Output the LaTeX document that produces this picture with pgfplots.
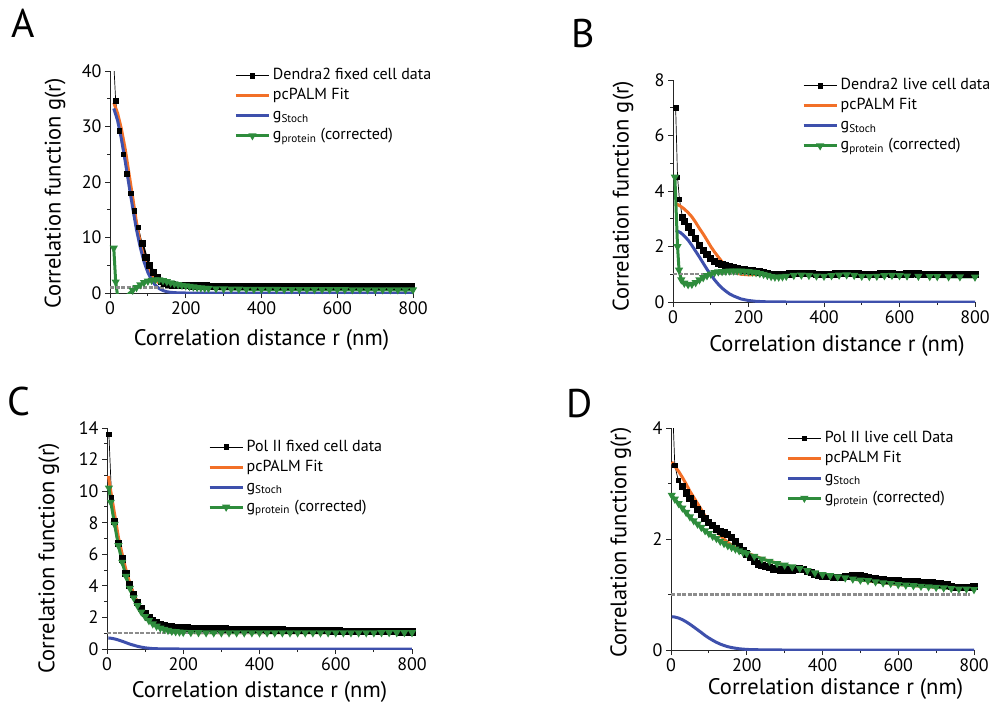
\documentclass[border=0pt]{standalone}
\usepackage{fontspec}
\setmainfont{PT Sans}
\usepackage{pgfplots}
\pgfplotsset{compat=1.18}
\definecolor{cOrange}{RGB}{242,112,40}
\definecolor{cBlue}{RGB}{62,80,172}
\definecolor{cGreen}{RGB}{46,140,60}
\definecolor{cGray}{RGB}{140,140,140}
\pgfplotsset{
  panel/.style={
    scale only axis, width=303pt, height=222pt,
    axis lines=left, axis line style={-, black!85, line width=0.9pt},
    xmin=0, xmax=800, xtick={0,200,400,600,800}, minor xtick={100,300,500,700},
    tick align=outside, major tick length=5pt, minor tick length=3pt,
    tick style={black!85, line width=0.9pt},
    /pgf/number format/assume math mode=true,
    ticklabel style={font=\fontsize{18}{18}\selectfont},
    every axis x label/.style={at={(axis description cs:0.5,0)}, anchor=base, font=\fontsize{22.5}{22.5}\selectfont},
    every axis y label/.style={rotate=90, anchor=south, font=\fontsize{22.5}{22.5}\selectfont},
    xlabel={Correlation distance r (nm)},
    ylabel={Correlation function g(r)},
    legend cell align=left,
    legend style={draw=none, fill=none, anchor=north west, font=\fontsize{16}{16}\selectfont, row sep=0pt, inner sep=0pt, nodes={inner xsep=2.5pt, inner ysep=3pt, text height=11pt, text depth=3pt}},
    legend image code/.code={\draw[mark repeat=2,mark phase=2,##1] plot coordinates {(0pt,0pt) (16.5pt,0pt) (33pt,0pt)};},
  },
  dat/.style={black, line width=0.7pt, mark=square*, mark size=2.2pt, mark options={solid}},
  datb/.style={black, line width=3pt, mark=square*, mark size=2.1pt, mark options={solid}, forget plot},
  fit/.style={cOrange, line width=3pt, no marks},
  sto/.style={cBlue, line width=3pt, no marks},
  pro/.style={cGreen, line width=3pt, mark=triangle*, mark size=1.8pt, mark options={rotate=180, solid}},
  one/.style={cGray, line width=2.4pt, dash pattern=on 4pt off 1.5pt, no marks, forget plot},
}
\begin{document}
\begin{tikzpicture}
\useasboundingbox (0pt,0pt) rectangle (995pt,-706pt);
% ---------------- A ----------------
\begin{axis}[panel, at={(110pt,-293pt)}, anchor=south west,
  ymin=0, ymax=40, ytick={0,10,20,30,40}, minor ytick={5,15,25,35},
  xlabel style={yshift=-52pt},
  ylabel style={at={(axis description cs:-0.135,0.448)}},
  legend style={at={(axis description cs:0.41,1.025)}}]
\addplot[dat] coordinates {(5,48) (15,34.6) (25,29.2) (35,25.0) (45,21.5) (55,18.0) (65,14.8) (75,11.8) (85,8.9)};
\addlegendentry{Dendra2 fixed cell data}
\addplot[datb] coordinates {(85,8.9) (95,6.4) (105,4.9) (115,3.7) (125,2.8) (135,2.1) (145,1.75) (155,1.55) (165,1.45) (175,1.38) (185,1.33) (195,1.3)
(205,1.28) (215,1.27) (225,1.26) (235,1.26) (245,1.25) (255,1.25) (265,1.24) (275,1.24) (285,1.23) (295,1.23) (305,1.23) (315,1.22) (325,1.22) (335,1.22) (345,1.21) (355,1.21) (365,1.21) (375,1.2) (385,1.2) (395,1.2) (405,1.2) (415,1.2) (425,1.19) (435,1.19) (445,1.19) (455,1.19) (465,1.18) (475,1.18) (485,1.18) (495,1.18) (505,1.17) (515,1.17) (525,1.17) (535,1.17) (545,1.16) (555,1.16) (565,1.16) (575,1.16) (585,1.15) (595,1.15) (605,1.15) (615,1.15) (625,1.15) (635,1.14) (645,1.14) (655,1.14) (665,1.14) (675,1.13) (685,1.13) (695,1.13) (705,1.13) (715,1.12) (725,1.12) (735,1.12) (745,1.12) (755,1.11) (765,1.11) (775,1.11) (785,1.1) (795,1.1)};
\addplot[fit] coordinates {(10,34.3) (20,32.4) (30,29.6) (40,26.0) (50,21.6) (60,17.2) (70,12.7) (80,9.0) (90,6.3) (100,4.4) (110,3.1) (120,2.3) (130,1.8) (140,1.5) (150,1.3) (170,1.1) (200,1.02) (300,1.0) (800,1.0)};
\addlegendentry{pcPALM Fit}
\addplot[sto] coordinates {(10,33.25) (20,31.1) (30,27.8) (40,23.8) (50,19.5) (60,15.3) (70,11.4) (80,8.2) (90,5.6) (100,3.7) (110,2.3) (120,1.39) (130,0.8) (140,0.44) (150,0.23) (160,0.115) (180,0.025) (200,0) (800,0)};
\addlegendentry{g\textsubscript{Stoch}}
\addplot[pro] coordinates {(10,8.1) (15,2.0) (20,-0.5) (30,-1.2) (40,-0.8) (50,-0.1) (60,0.5) (70,1.0) (80,1.5) (90,1.9) (100,2.15) (110,2.3) (120,2.4) (130,2.38) (140,2.25) (150,2.05) (160,1.85) (170,1.68) (180,1.52) (190,1.4) (200,1.3) (210,1.2) (220,1.1) (230,1.0) (240,0.93) (250,0.87) (260,0.83) (280,0.78) (300,0.75) (320,0.72) (340,0.7) (360,0.68) (380,0.67) (400,0.66) (420,0.65) (440,0.65) (460,0.64) (480,0.64) (500,0.63) (520,0.63) (540,0.62) (560,0.62) (580,0.62) (600,0.61) (620,0.61) (640,0.6) (660,0.6) (680,0.6) (700,0.59) (720,0.59) (740,0.59) (760,0.58) (780,0.58) (800,0.58)};
\addlegendentry{g\textsubscript{protein} (corrected)}
\addplot[one] coordinates {(0,1) (800,1)};
\end{axis}
% ---------------- B ----------------
\begin{axis}[panel, at={(673pt,-302pt)}, anchor=south west, width=302pt,
  ymin=0, ymax=8, ytick={0,2,4,6,8}, minor ytick={1,3,5,7},
  xlabel style={yshift=-49pt, xshift=13pt},
  ylabel style={at={(axis description cs:-0.119,0.477)}},
  legend style={at={(axis description cs:0.427,1.02)}}]
\addplot[dat] coordinates {(7,7.0) (12,4.5) (17,3.7) (25,3.05)};
\addlegendentry{Dendra2 live cell data}
\addplot[datb] coordinates {(25,3.05) (30,2.9) (40,2.7) (50,2.5) (60,2.28) (70,2.05) (80,1.85) (90,1.7) (100,1.57) (110,1.47) (120,1.4) (130,1.35) (140,1.3) (150,1.27) (160,1.24) (170,1.2) (180,1.17) (190,1.15) (200,1.13) (210,1.12) (220,1.1) (230,1.08) (240,1.05) (250,1.02) (260,1.0) (270,0.99) (280,0.98) (290,0.99) (300,1.0) (310,1.01) (320,1.02) (330,1.03) (340,1.04) (350,1.04) (360,1.03) (370,1.02) (380,1.0) (390,0.99) (400,0.99) (410,1.0) (420,1.0) (430,1.01) (440,1.02) (450,1.03) (460,1.04) (470,1.04) (480,1.03) (490,1.01) (500,1.0) (510,0.99) (520,0.99) (530,1.0) (540,1.0) (550,1.01) (560,1.02) (570,1.02) (580,1.01) (590,1.0) (600,1.0) (610,1.0) (620,1.01) (630,1.01) (640,1.02) (650,1.01) (660,1.0) (670,1.0) (680,0.99) (690,0.99) (700,1.0) (710,1.0) (720,1.0) (730,0.99) (740,0.99) (750,0.99) (760,0.99) (770,0.99) (780,0.99) (790,0.99) (800,0.99)};
\addplot[fit] coordinates {(8,3.55) (20,3.45) (30,3.35) (40,3.22) (50,3.07) (60,2.87) (70,2.65) (80,2.45) (90,2.23) (100,2.0) (110,1.8) (120,1.62) (130,1.45) (140,1.3) (150,1.19) (160,1.1) (170,1.04) (180,1.0) (200,0.98) (250,1.0) (800,1.02)};
\addlegendentry{pcPALM Fit}
\addplot[sto] coordinates {(8,2.58) (20,2.5) (30,2.38) (40,2.23) (50,2.04) (60,1.83) (70,1.62) (80,1.4) (90,1.18) (100,0.985) (110,0.8) (120,0.64) (130,0.5) (140,0.39) (150,0.29) (160,0.22) (180,0.11) (200,0.054) (220,0.024) (250,0.006) (300,0) (800,0)};
\addlegendentry{g\textsubscript{Stoch}}
\addplot[pro] coordinates {(5,4.5) (12,2.0) (16,1.15) (22,0.8) (30,0.68) (40,0.63) (50,0.64) (60,0.7) (70,0.8) (80,0.88) (90,0.95) (100,1.01) (110,1.06) (120,1.09) (130,1.1) (140,1.11) (150,1.12) (160,1.12) (170,1.12) (180,1.12) (190,1.11) (200,1.1) (210,1.08) (220,1.06) (230,1.03) (240,1.0) (250,0.96) (260,0.92) (270,0.9) (280,0.9) (290,0.91) (300,0.93) (320,0.96) (340,0.97) (360,0.96) (380,0.94) (400,0.93) (420,0.95) (440,0.97) (460,0.98) (480,0.96) (500,0.93) (520,0.92) (540,0.93) (560,0.95) (580,0.96) (600,0.95) (620,0.94) (650,0.93) (680,0.92) (700,0.92) (730,0.91) (760,0.91) (800,0.9)};
\addlegendentry{g\textsubscript{protein} (corrected)}
\addplot[one] coordinates {(0,1) (800,1)};
\end{axis}
% ---------------- C ----------------
\begin{axis}[panel, at={(107pt,-649pt)}, anchor=south west, width=305pt, height=221pt,
  ymin=0, ymax=14, ytick={0,2,4,6,8,10,12,14}, minor ytick={1,3,5,7,9,11,13},
  xlabel style={yshift=-48pt},
  ylabel style={at={(axis description cs:-0.145,0.41)}},
  legend style={at={(axis description cs:0.331,0.96)}}]
\addplot[dat] coordinates {(5,13.6) (12,9.6) (20,8.1)};
\addlegendentry{Pol II fixed cell data}
\addplot[datb] coordinates {(20,8.1) (30,6.7) (40,5.7) (50,4.8) (60,4.05) (70,3.45) (80,2.95) (90,2.55) (100,2.25) (110,2.0) (120,1.8) (130,1.65) (140,1.55) (150,1.47) (160,1.42) (170,1.39) (180,1.37) (190,1.35) (200,1.34) (210,1.33) (220,1.32) (230,1.31) (240,1.31) (250,1.3) (260,1.29) (270,1.29) (280,1.28) (290,1.28) (300,1.27) (310,1.27) (320,1.26) (330,1.26) (340,1.26) (350,1.25) (360,1.24) (370,1.24) (380,1.23) (390,1.23) (400,1.22) (410,1.22) (420,1.21) (430,1.21) (440,1.2) (450,1.2) (460,1.2) (470,1.19) (480,1.19) (490,1.18) (500,1.18) (510,1.18) (520,1.17) (530,1.17) (540,1.16) (550,1.16) (560,1.15) (570,1.15) (580,1.15) (590,1.14) (600,1.14) (610,1.14) (620,1.13) (630,1.13) (640,1.12) (650,1.12) (660,1.12) (670,1.11) (680,1.11) (690,1.11) (700,1.1) (710,1.1) (720,1.1) (730,1.09) (740,1.09) (750,1.09) (760,1.09) (770,1.08) (780,1.08) (790,1.08) (800,1.08)};
\addplot[fit] coordinates {(3.5,10.96) (10,9.99) (20,8.54) (30,7.07) (40,5.99) (50,5.0) (60,4.16) (70,3.49) (80,2.92) (90,2.47) (100,2.13) (110,1.85) (120,1.63) (130,1.46) (140,1.34) (150,1.25) (160,1.18) (180,1.1) (200,1.06) (250,1.03) (800,1.03)};
\addlegendentry{pcPALM Fit}
\addplot[sto] coordinates {(3.5,0.7) (10,0.685) (20,0.64) (30,0.57) (40,0.49) (50,0.4) (60,0.31) (70,0.24) (80,0.17) (90,0.12) (100,0.076) (110,0.05) (120,0.029) (140,0.009) (160,0.002) (200,0) (800,0)};
\addlegendentry{g\textsubscript{Stoch}}
\addplot[pro] coordinates {(5,10.2) (10,9.3) (20,7.9) (30,6.55) (40,5.5) (50,4.6) (60,3.85) (70,3.25) (80,2.75) (90,2.35) (100,2.05) (110,1.8) (120,1.6) (130,1.45) (140,1.33) (150,1.25) (160,1.18) (170,1.13) (180,1.1) (190,1.08) (200,1.06) (220,1.05) (240,1.04) (260,1.03) (280,1.03) (300,1.03) (320,1.03) (340,1.03) (360,1.03) (380,1.03) (400,1.03) (420,1.03) (440,1.03) (460,1.03) (480,1.03) (500,1.03) (520,1.03) (540,1.03) (560,1.03) (580,1.03) (600,1.03) (620,1.03) (640,1.03) (660,1.03) (680,1.03) (700,1.03) (720,1.04) (740,1.04) (760,1.04) (780,1.04) (800,1.04)};
\addlegendentry{g\textsubscript{protein} (corrected)}
\addplot[one] coordinates {(0,1) (800,1)};
\end{axis}
% ---------------- D ----------------
\begin{axis}[panel, at={(671pt,-650pt)}, anchor=south west,
  ymin=0, ymax=4, ytick={0,2,4}, minor ytick={1,3},
  xlabel style={yshift=-44pt, xshift=13pt},
  ylabel style={at={(axis description cs:-0.119,0.484)}},
  legend style={at={(axis description cs:0.38,1.0)}}]
\addplot[dat] coordinates {(3,4.6) (10,3.33) (19,3.06) (30,2.95)};
\addlegendentry{Pol II live cell Data}
\addplot[datb] coordinates {(30,2.95) (40,2.83) (50,2.73) (60,2.63) (70,2.53) (80,2.45) (90,2.37) (100,2.3) (110,2.24) (120,2.18) (130,2.14) (140,2.11) (150,2.08) (160,2.02) (170,1.95) (180,1.87) (190,1.8) (200,1.73) (210,1.66) (220,1.6) (230,1.55) (240,1.52) (250,1.5) (260,1.48) (270,1.46) (280,1.45) (290,1.44) (300,1.44) (310,1.44) (320,1.44) (330,1.45) (340,1.46) (350,1.45) (360,1.42) (370,1.39) (380,1.36) (390,1.34) (400,1.33) (410,1.32) (420,1.32) (430,1.31) (440,1.31) (450,1.31) (460,1.32) (470,1.33) (480,1.34) (490,1.34) (500,1.34) (510,1.32) (520,1.31) (530,1.29) (540,1.28) (550,1.27) (560,1.26) (570,1.25) (580,1.25) (590,1.25) (600,1.25) (610,1.24) (620,1.24) (630,1.23) (640,1.23) (650,1.23) (660,1.22) (670,1.22) (680,1.21) (690,1.21) (700,1.2) (710,1.19) (720,1.18) (730,1.17) (740,1.15) (750,1.13) (760,1.12) (770,1.12) (780,1.12) (790,1.13) (800,1.15)};
\addplot[fit] coordinates {(2,3.39) (10,3.31) (20,3.22) (30,3.11) (40,2.99) (50,2.86) (60,2.75) (70,2.64) (80,2.53) (90,2.41) (100,2.32) (110,2.23) (120,2.15) (130,2.07) (140,2.0) (150,1.94) (160,1.89) (180,1.81) (200,1.75) (250,1.62) (300,1.53) (400,1.36) (500,1.26) (600,1.18) (700,1.13) (800,1.09)};
\addlegendentry{pcPALM Fit}
\addplot[sto] coordinates {(2,0.6) (10,0.594) (20,0.576) (30,0.547) (40,0.508) (50,0.464) (60,0.415) (70,0.365) (80,0.315) (90,0.262) (100,0.216) (110,0.175) (120,0.138) (130,0.107) (140,0.081) (150,0.06) (160,0.044) (180,0.022) (200,0.01) (250,0.001) (300,0) (800,0)};
\addlegendentry{g\textsubscript{Stoch}}
\addplot[pro] coordinates {(2,2.79) (10,2.72) (20,2.64) (30,2.56) (40,2.48) (50,2.4) (60,2.33) (70,2.27) (80,2.21) (90,2.15) (100,2.1) (110,2.05) (120,2.01) (130,1.96) (140,1.92) (150,1.88) (160,1.85) (170,1.82) (180,1.79) (190,1.76) (200,1.74) (220,1.69) (240,1.64) (260,1.6) (280,1.56) (300,1.53) (320,1.5) (340,1.47) (360,1.43) (380,1.39) (400,1.36) (420,1.34) (440,1.32) (460,1.3) (480,1.28) (500,1.26) (520,1.25) (540,1.23) (560,1.21) (580,1.2) (600,1.18) (620,1.17) (640,1.16) (660,1.15) (680,1.14) (700,1.13) (720,1.12) (740,1.11) (760,1.1) (780,1.1) (800,1.09)};
\addlegendentry{g\textsubscript{protein} (corrected)}
\addplot[one] coordinates {(0,1) (790,1)};
\end{axis}
% panel letters
\node[font=\fontsize{40}{40}\selectfont, anchor=base west, inner sep=0pt] at (11pt,-38pt) {A};
\node[font=\fontsize{40}{40}\selectfont, anchor=base west, inner sep=0pt] at (571pt,-48pt) {B};
\node[font=\fontsize{40}{40}\selectfont, anchor=base west, inner sep=0pt] at (7pt,-415pt) {C};
\node[font=\fontsize{40}{40}\selectfont, anchor=base west, inner sep=0pt] at (566pt,-417pt) {D};
\end{tikzpicture}
\end{document}
